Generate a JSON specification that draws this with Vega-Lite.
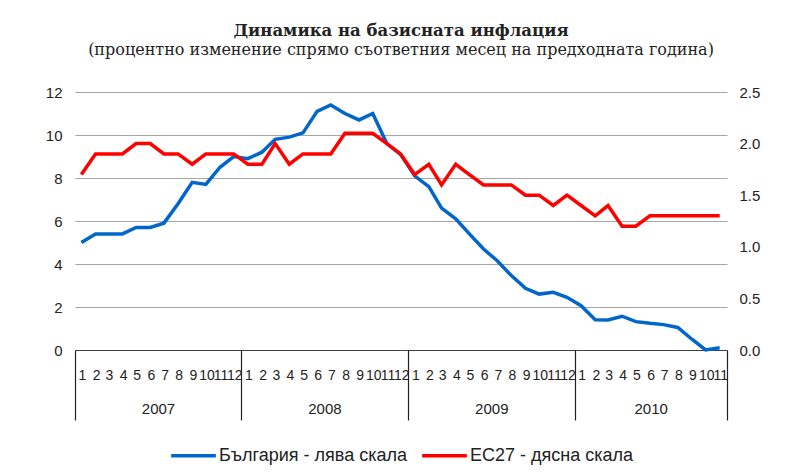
{
  "$schema": "https://vega.github.io/schema/vega-lite/v6.json",
  "width": 652,
  "height": 258,
  "padding": {"left": 45, "top": 22, "right": 5, "bottom": 5},
  "background": "white",
  "title": {
    "text": "Динамика на базисната инфлация",
    "subtitle": "(процентно изменение спрямо съответния месец на предходната година)",
    "font": "DejaVu Serif",
    "fontSize": 16.5,
    "fontWeight": "bold",
    "color": "#222222",
    "subtitleFont": "DejaVu Serif",
    "subtitleFontSize": 16,
    "subtitleColor": "#222222",
    "subtitlePadding": 3,
    "offset": 27,
    "anchor": "middle"
  },
  "config": {
    "view": {"stroke": null},
    "axis": {"labelFont": "Liberation Sans", "labelColor": "#222222"},
    "legend": {"labelFont": "Liberation Sans", "labelColor": "#222222", "layout": {"bottom": {"anchor": "middle"}}}
  },
  "data": {
    "values": [
      {"date": "2007-01-15", "bg": 5.0, "eu": 1.7},
      {"date": "2007-02-15", "bg": 5.4, "eu": 1.9},
      {"date": "2007-03-15", "bg": 5.4, "eu": 1.9},
      {"date": "2007-04-15", "bg": 5.4, "eu": 1.9},
      {"date": "2007-05-15", "bg": 5.7, "eu": 2.0},
      {"date": "2007-06-15", "bg": 5.7, "eu": 2.0},
      {"date": "2007-07-15", "bg": 5.9, "eu": 1.9},
      {"date": "2007-08-15", "bg": 6.8, "eu": 1.9},
      {"date": "2007-09-15", "bg": 7.8, "eu": 1.8},
      {"date": "2007-10-15", "bg": 7.7, "eu": 1.9},
      {"date": "2007-11-15", "bg": 8.5, "eu": 1.9},
      {"date": "2007-12-15", "bg": 9.0, "eu": 1.9},
      {"date": "2008-01-15", "bg": 8.9, "eu": 1.8},
      {"date": "2008-02-15", "bg": 9.2, "eu": 1.8},
      {"date": "2008-03-15", "bg": 9.8, "eu": 2.0},
      {"date": "2008-04-15", "bg": 9.9, "eu": 1.8},
      {"date": "2008-05-15", "bg": 10.1, "eu": 1.9},
      {"date": "2008-06-15", "bg": 11.1, "eu": 1.9},
      {"date": "2008-07-15", "bg": 11.4, "eu": 1.9},
      {"date": "2008-08-15", "bg": 11.0, "eu": 2.1},
      {"date": "2008-09-15", "bg": 10.7, "eu": 2.1},
      {"date": "2008-10-15", "bg": 11.0, "eu": 2.1},
      {"date": "2008-11-15", "bg": 9.6, "eu": 2.0},
      {"date": "2008-12-15", "bg": 9.1, "eu": 1.9},
      {"date": "2009-01-15", "bg": 8.1, "eu": 1.7},
      {"date": "2009-02-15", "bg": 7.6, "eu": 1.8},
      {"date": "2009-03-15", "bg": 6.6, "eu": 1.6},
      {"date": "2009-04-15", "bg": 6.1, "eu": 1.8},
      {"date": "2009-05-15", "bg": 5.4, "eu": 1.7},
      {"date": "2009-06-15", "bg": 4.7, "eu": 1.6},
      {"date": "2009-07-15", "bg": 4.15, "eu": 1.6},
      {"date": "2009-08-15", "bg": 3.46, "eu": 1.6},
      {"date": "2009-09-15", "bg": 2.87, "eu": 1.5},
      {"date": "2009-10-15", "bg": 2.6, "eu": 1.5},
      {"date": "2009-11-15", "bg": 2.68, "eu": 1.4},
      {"date": "2009-12-15", "bg": 2.45, "eu": 1.5},
      {"date": "2010-01-15", "bg": 2.06, "eu": 1.4},
      {"date": "2010-02-15", "bg": 1.41, "eu": 1.3},
      {"date": "2010-03-15", "bg": 1.4, "eu": 1.4},
      {"date": "2010-04-15", "bg": 1.57, "eu": 1.2},
      {"date": "2010-05-15", "bg": 1.32, "eu": 1.2},
      {"date": "2010-06-15", "bg": 1.24, "eu": 1.3},
      {"date": "2010-07-15", "bg": 1.18, "eu": 1.3},
      {"date": "2010-08-15", "bg": 1.05, "eu": 1.3},
      {"date": "2010-09-15", "bg": 0.5, "eu": 1.3},
      {"date": "2010-10-15", "bg": 0.0, "eu": 1.3},
      {"date": "2010-11-15", "bg": 0.1, "eu": 1.3}
    ]
  },
  "layer": [
    {
      "mark": {"type": "line", "strokeWidth": 3.5},
      "encoding": {
        "x": {
          "field": "date",
          "type": "temporal",
          "scale": {"domain": [{"year": 2007, "month": 1, "date": 1}, {"year": 2010, "month": 12, "date": 1}], "nice": false},
          "axis": {
            "orient": "bottom",
            "title": null,
            "tickCount": {"interval": "month", "step": 1},
            "format": "%-m",
            "labelExpr": "year(datum.value) == 2010 && month(datum.value) == 11 ? '' : datum.label",
            "labelOffset": 7,
            "labelAlign": "center",
            "labelBaseline": "middle",
            "labelPadding": 25,
            "labelFontSize": 14,
            "labelOverlap": false,
            "labelFlush": false,
            "ticks": false,
            "grid": false,
            "domain": true,
            "domainColor": "#404040",
            "domainWidth": 1.2
          }
        },
        "y": {
          "field": "bg",
          "type": "quantitative",
          "scale": {"domain": [0, 12]},
          "axis": {
            "orient": "left",
            "title": null,
            "values": [0, 2, 4, 6, 8, 10, 12],
            "grid": true,
            "gridColor": "#a6a6a6",
            "gridWidth": 1,
            "domain": false,
            "ticks": false,
            "labelPadding": 13,
            "labelFontSize": 15
          }
        },
        "stroke": {
          "datum": "България - лява скала",
          "type": "nominal",
          "scale": {"domain": ["България - лява скала", "ЕС27 - дясна скала"], "range": ["#0066cc", "#ff0000"]},
          "legend": {
            "orient": "bottom",
            "direction": "horizontal",
            "title": null,
            "symbolType": "stroke",
            "symbolStrokeWidth": 3.5,
            "symbolSize": 2000,
            "labelFontSize": 18,
            "labelLimit": 400,
            "columnPadding": 8,
            "labelOffset": 1,
            "offset": 10
          }
        }
      }
    },
    {
      "mark": {"type": "line", "strokeWidth": 3.5},
      "encoding": {
        "x": {
          "field": "date",
          "type": "temporal",
          "axis": {
            "orient": "bottom",
            "title": null,
            "values": [
              {"year": 2007, "month": 1, "date": 1},
              {"year": 2008, "month": 1, "date": 1},
              {"year": 2009, "month": 1, "date": 1},
              {"year": 2010, "month": 1, "date": 1},
              {"year": 2010, "month": 12, "date": 1}
            ],
            "labelExpr": "year(datum.value) == 2010 && month(datum.value) == 11 ? '' : timeFormat(datum.value, '%Y')",
            "labelOffset": {"condition": {"test": "year(datum.value) == 2010", "value": 76}, "value": 83},
            "labelAlign": "center",
            "labelBaseline": "middle",
            "labelPadding": -12,
            "labelFontSize": 15,
            "labelOverlap": false,
            "labelFlush": false,
            "ticks": true,
            "tickSize": 70,
            "tickColor": "#222222",
            "tickWidth": 1.2,
            "grid": false,
            "domain": false
          }
        },
        "y": {
          "field": "eu",
          "type": "quantitative",
          "scale": {"domain": [0, 2.5]},
          "axis": {
            "orient": "right",
            "title": null,
            "values": [0, 0.5, 1, 1.5, 2, 2.5],
            "format": ".1f",
            "grid": false,
            "domain": false,
            "ticks": false,
            "labelPadding": 12,
            "labelFontSize": 15
          }
        },
        "stroke": {"datum": "ЕС27 - дясна скала", "type": "nominal"}
      }
    }
  ],
  "resolve": {"scale": {"y": "independent"}, "axis": {"x": "independent"}}
}
